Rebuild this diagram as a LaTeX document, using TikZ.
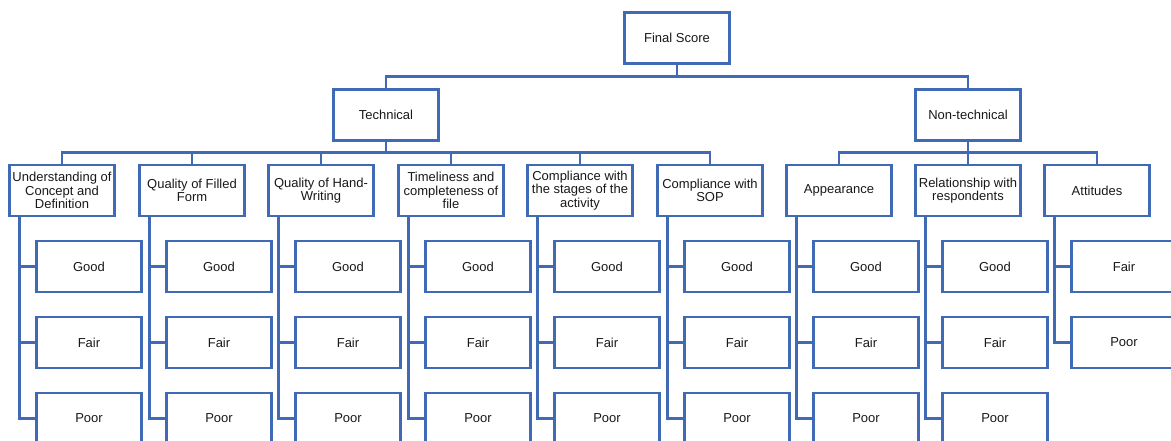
\documentclass[tikz,border=0pt]{standalone}
\usepackage{fontspec}
\setmainfont{Liberation Sans}
\usetikzlibrary{positioning,calc}
\definecolor{boxblue}{RGB}{64,106,182}

\begin{document}
\begin{tikzpicture}[x=1pt,y=-1pt,
    box/.style={draw=boxblue,line width=2.4pt,fill=white,minimum width=105pt,minimum height=51pt,
      align=center,inner sep=0pt,text=black!90,font=\fontsize{13}{13.3}\selectfont},
    link/.style={draw=boxblue,line width=2.4pt}]
  \useasboundingbox (0,0) rectangle (1171,441);
  \clip (0,0) rectangle (1171,441);
  % top levels
  \node[box] (final) at (677,38) {Final Score};
  \node[box] (tech) at (386,115) {Technical};
  \node[box] (nontech) at (968,115) {Non-technical};
  \draw[link] (final.south) -- ++(0,12) coordinate (fsplit) -| (tech.north);
  \draw[link] (fsplit) -| (nontech.north);
  % criteria
  \foreach \n/\x/\p/\t in {und/62/tech/{Understanding of\\Concept and\\Definition},
      qff/192/tech/{Quality of Filled\\Form}, qhw/321/tech/{Quality of Hand-\\Writing},
      tim/451/tech/{Timeliness and\\completeness of\\file}, cst/580/tech/{Compliance with\\the stages of the\\activity},
      sop/710/tech/{Compliance with\\SOP}, app/839/nontech/{Appearance},
      rel/968/nontech/{Relationship with\\respondents}, att/1097/nontech/{Attitudes}}{
    \node[box] (\n) at (\x,190.5) {\t};
    \draw[link] (\p.south) -- ++(0,11) -| (\n.north);
  }
  % grades
  \foreach \n in {und,qff,qhw,tim,cst,sop,app,rel}{
    \foreach \g [count=\i] in {Good,Fair,Poor}{
      \node[box] (\n-\i) at ($(\n.center)+(27,76*\i)$) {\g};
      \draw[link] ($(\n.south west)+(11,0)$) |- (\n-\i.west);
    }
  }
  \foreach \g [count=\i] in {Fair,Poor}{
    \node[box] (att-\i) at ($(att.center)+(27,76*\i)$) {\g};
    \draw[link] ($(att.south west)+(11,0)$) |- (att-\i.west);
  }
\end{tikzpicture}
\end{document}
